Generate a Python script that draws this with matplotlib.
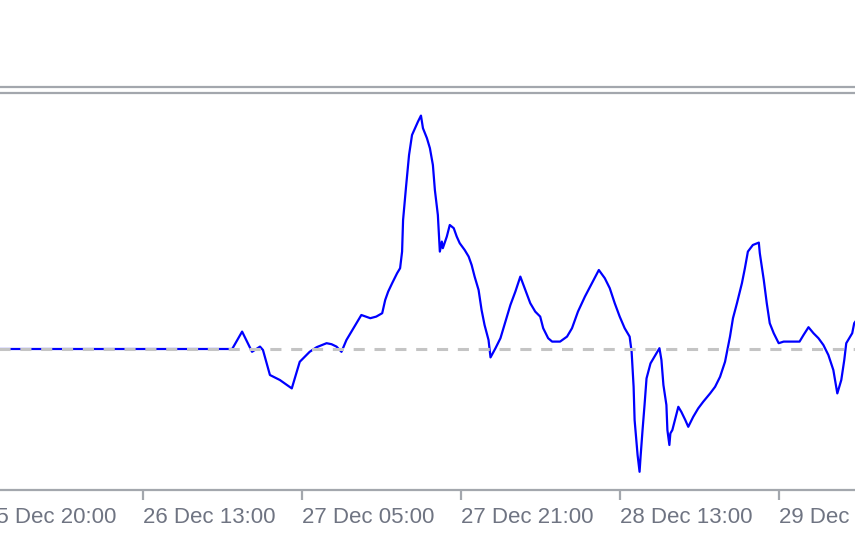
import matplotlib
matplotlib.use("Agg")
import matplotlib.pyplot as plt
from matplotlib.lines import Line2D

# hours since 25 Dec 20:00 (one bar = one hour) and the curve value
hours = [-3.0, 25.0, 26.0, 27.0, 27.8, 28.1, 28.8, 29.8, 31.0, 31.8, 32.8,
         33.5, 34.5, 35.0, 35.5, 36.0, 36.5, 37.4, 38.0, 38.9, 39.5, 40.1,
         40.4, 40.7, 41.1, 41.6, 41.9, 42.1, 42.2, 42.5, 42.8, 43.1, 43.4,
         43.7, 44.0, 44.2, 44.6, 44.9, 45.2, 45.4, 45.7, 45.9, 46.1, 46.2,
         46.6, 46.9, 47.3, 47.6, 47.9, 48.4, 48.8, 49.1, 49.4, 49.8, 50.1,
         50.4, 50.8, 51.0, 51.5, 52.0, 52.5, 53.0, 53.5, 54.0, 54.5, 55.0,
         55.5, 56.0, 56.3, 56.8, 57.2, 58.0, 58.7, 59.2, 59.8, 60.5, 61.2,
         61.9, 62.5, 63.0, 63.5, 64.0, 64.5, 65.0, 65.2, 65.4, 65.5, 65.8,
         66.0, 66.1, 66.3, 66.5, 66.7, 67.1, 67.4, 68.0, 68.2, 68.4, 68.7,
         68.8, 69.0, 69.1, 69.3, 69.6, 69.9, 70.2, 70.6, 70.9, 71.4, 71.9,
         72.4, 73.1, 73.6, 74.1, 74.6, 75.1, 75.4, 75.8, 76.3, 76.6, 76.9,
         77.4, 78.0, 78.1, 78.5, 78.8, 79.1, 79.5, 80.0, 80.5, 82.1, 82.5,
         83.0, 83.5, 84.0, 84.5, 85.0, 85.5, 85.9, 86.3, 86.6, 86.8, 87.4,
         87.6, 88.2]
values = [0.0, 0.0, 8.7, -1.4, 1.2, -0.5, -13.0, -15.5, -19.7, -6.4, -1.4,
          0.9, 2.9, 2.4, 1.2, -1.4, 4.5, 12.0, 17.0, 15.4, 16.2, 17.9,
          24.5, 28.7, 32.9, 37.9, 40.4, 48.7, 64.5, 81.2, 97.0, 107.0, 110.4,
          113.7, 116.7, 110.4, 105.4, 100.4, 92.0, 79.5, 67.0, 48.7, 53.7, 50.4,
          56.2, 62.0, 60.4, 56.2, 52.9, 49.5, 46.2, 42.0, 36.2, 29.5, 19.5,
          12.0, 4.5, -4.2, 0.4, 5.4, 13.7, 22.0, 28.7, 36.2, 29.5, 22.9,
          18.7, 16.2, 10.4, 5.4, 3.7, 3.7, 6.2, 10.4, 18.7, 26.2, 32.9,
          39.5, 35.4, 30.4, 22.9, 16.2, 10.4, 6.2, -1.4, -18.9, -35.5, -53.0,
          -61.4, -53.9, -40.5, -28.0, -14.7, -7.2, -4.7, 0.4, -5.5, -18.0, -28.0,
          -40.5, -48.0, -42.2, -40.5, -34.7, -28.9, -31.4, -35.5, -38.9, -33.9, -29.7,
          -26.4, -22.2, -18.9, -13.9, -6.4, 6.2, 15.4, 22.9, 32.9, 40.4, 48.7,
          52.0, 53.2, 47.9, 34.5, 22.9, 12.9, 7.9, 2.9, 3.7, 3.7, 7.0,
          10.9, 7.9, 5.4, 2.0, -3.0, -10.5, -22.2, -15.5, -5.5, 2.9, 7.9,
          12.9, 17.0]

tick_pos = [0, 16, 32, 48, 64, 80]
tick_labels = ["25 Dec 20:00", "26 Dec 13:00", "27 Dec 05:00",
               "27 Dec 21:00", "28 Dec 13:00", "29 Dec 05:00"]

plt.rcParams['font.family'] = ['Liberation Sans', 'DejaVu Sans']
plt.rcParams['lines.scale_dashes'] = False

W, H = 855, 534
fig = plt.figure(figsize=(W / 100, H / 100), dpi=100)

# axes runs a little past the left edge so the first label is cut like the original
left_px, bottom_px, top_px = -40, 490, 93
ax = fig.add_axes([left_px / W, (H - bottom_px) / H,
                   (W - left_px) / W, (bottom_px - top_px) / H])

frame = '#a3a7ad'
ax.plot(hours, values, color='#0000ff', lw=1.6, zorder=2)
ax.axhline(0, color='#c4c4c4', lw=2.2, dashes=(8, 7), zorder=3)

ax.set_xlim(-2.39, 87.68)
ax.set_ylim(-70.5, 128)

ax.set_xticks(tick_pos)
ax.set_xticklabels(tick_labels, ha='left')
ax.tick_params(axis='x', length=7, width=1.6, color=frame, pad=5,
               labelsize=16, labelcolor='#6f7482')
ax.set_yticks([])

for side in ['left', 'right']:
    ax.spines[side].set_visible(False)
ax.spines['bottom'].set_color(frame)
ax.spines['bottom'].set_linewidth(1.6)
ax.spines['top'].set_color(frame)
ax.spines['top'].set_linewidth(1.6)

# second (outer) frame line above the chart
y_outer = (H - 87) / H
fig.add_artist(Line2D([0, 1], [y_outer, y_outer], transform=fig.transFigure,
                      color=frame, lw=1.6))

fig.savefig("out.png", dpi=100)
